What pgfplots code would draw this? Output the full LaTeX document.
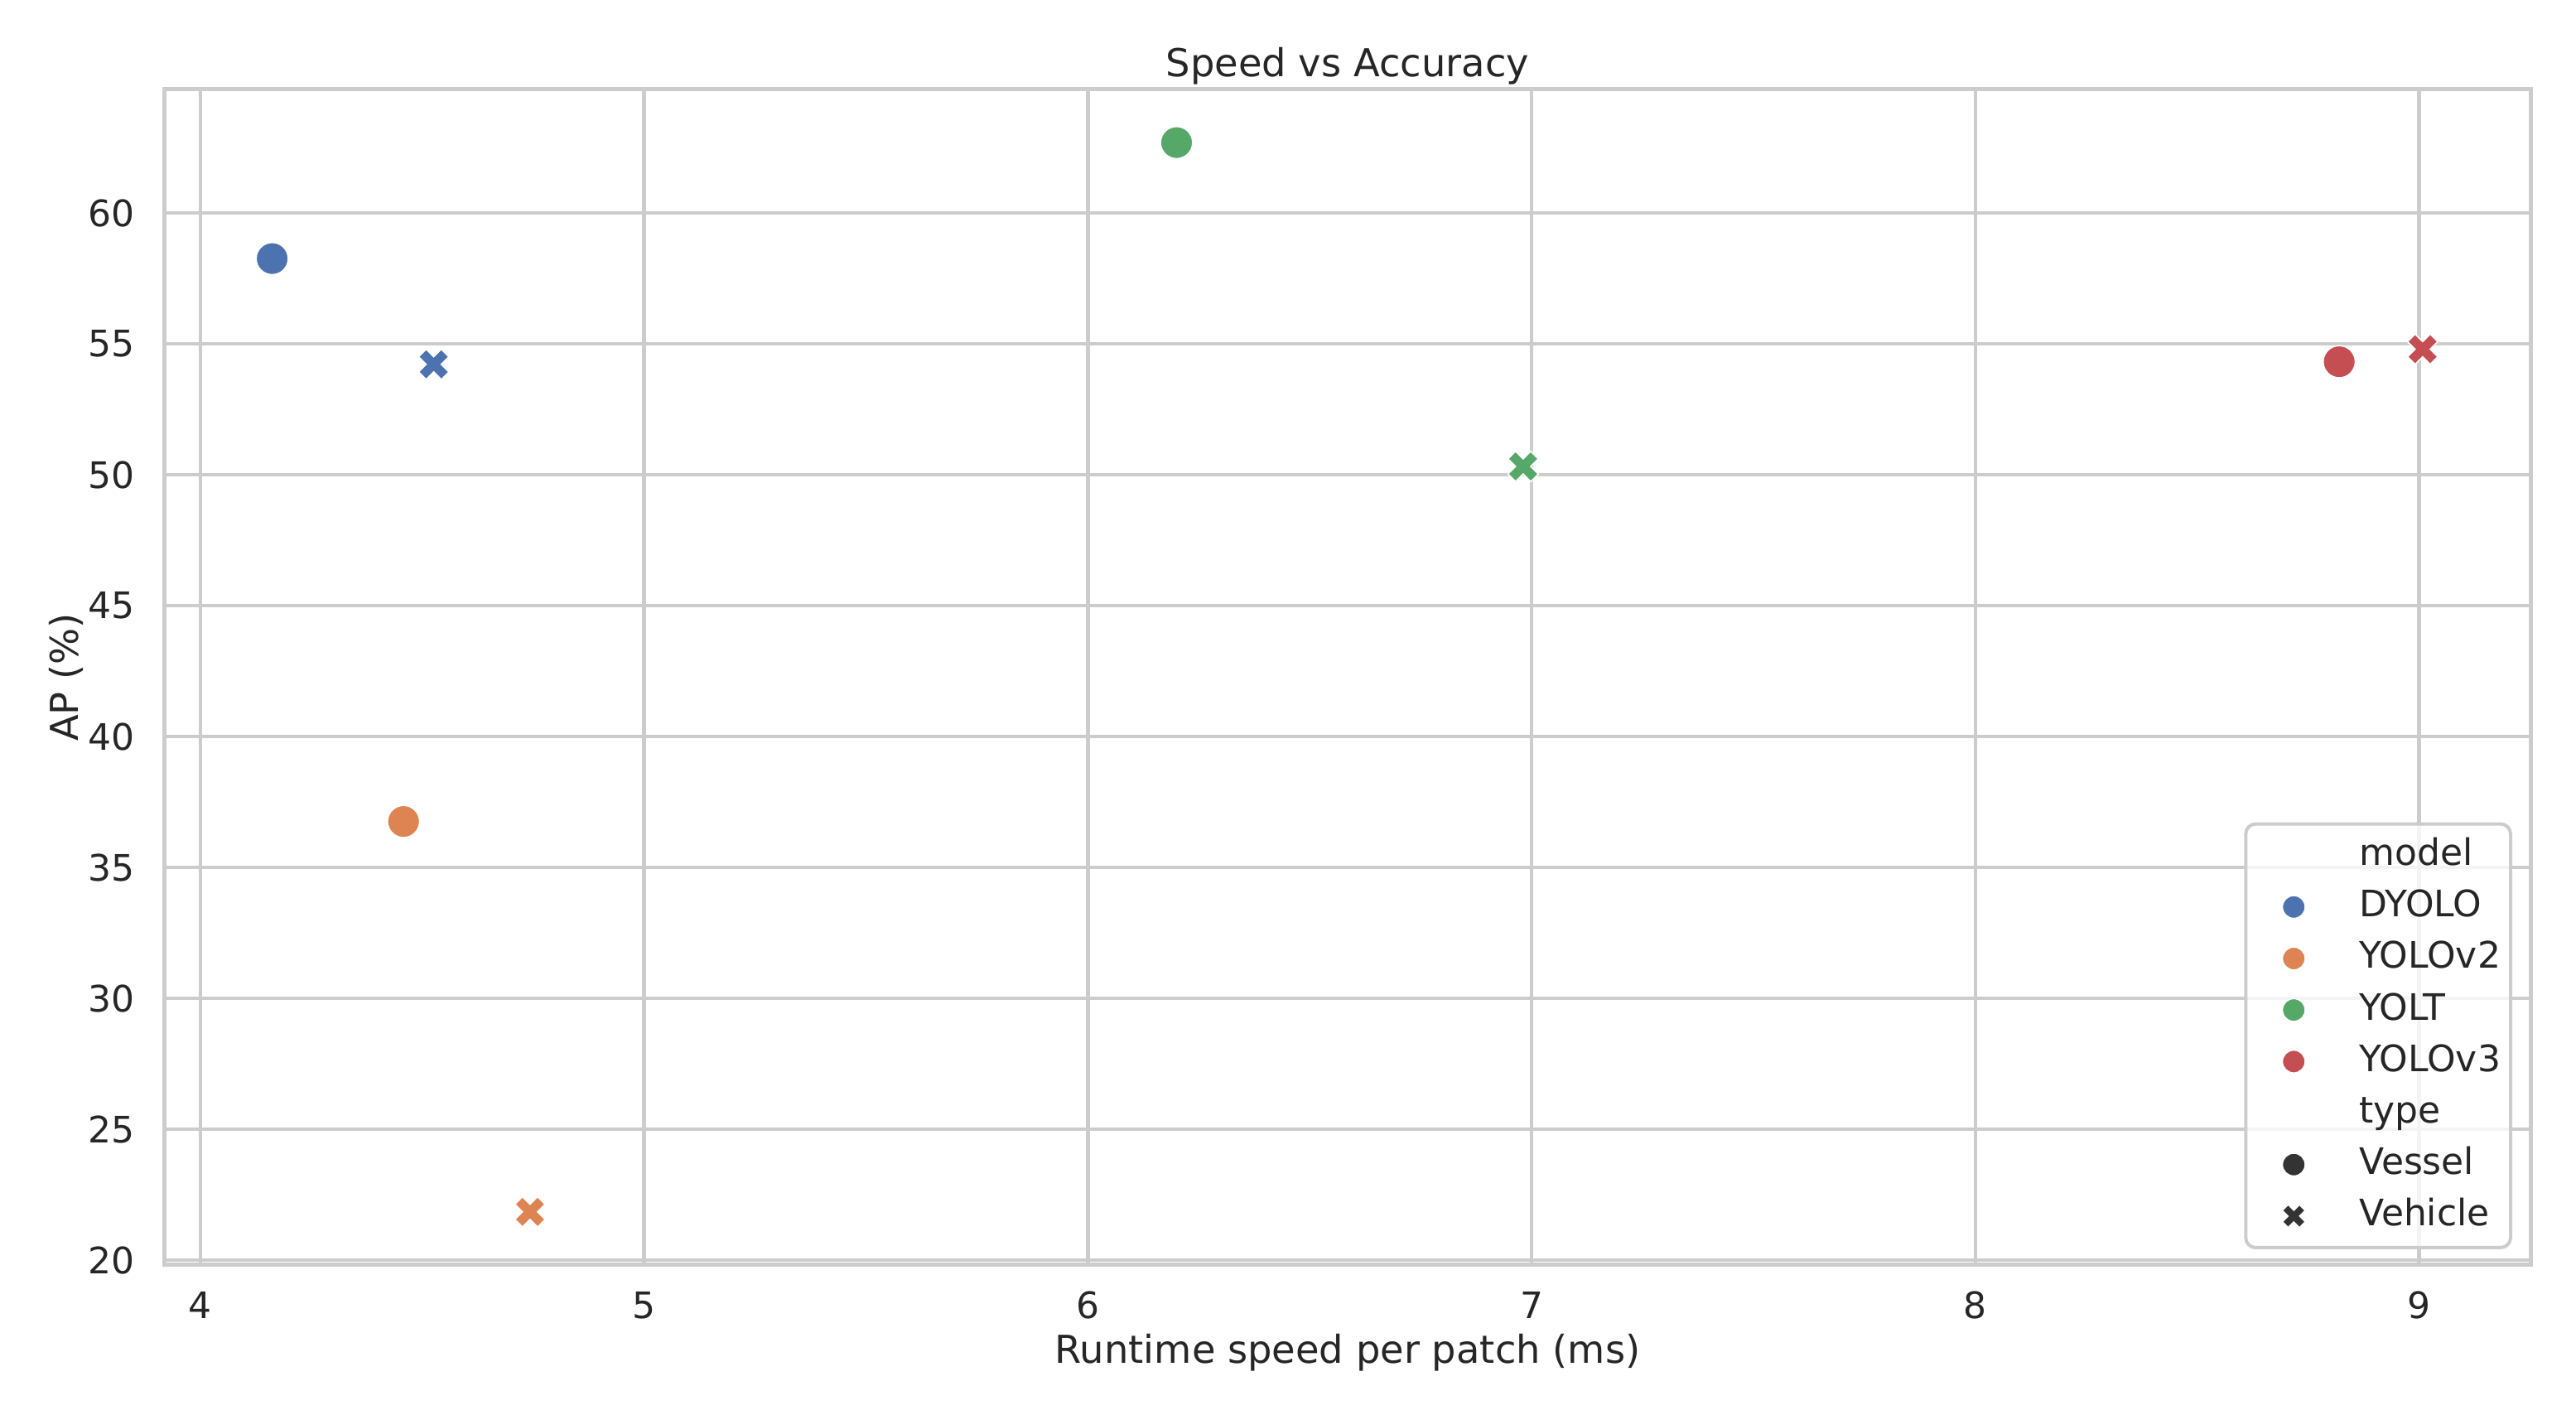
\documentclass[border=0pt]{standalone}
\usepackage{fontspec}
\setmainfont{DejaVu Sans}
\usepackage{pgfplots}
\pgfplotsset{compat=1.18}
\definecolor{c1}{HTML}{4C72B0}
\definecolor{c2}{HTML}{DD8452}
\definecolor{c3}{HTML}{55A868}
\definecolor{c4}{HTML}{C44E52}
\definecolor{cdark}{HTML}{333333}
\definecolor{textc}{HTML}{262626}
\definecolor{gridc}{HTML}{CCCCCC}
\pgfdeclareplotmark{bigx}{%
  \pgfmathsetlengthmacro{\mr}{\pgfplotmarksize}%
  \pgfmathsetlengthmacro{\ma}{\pgfplotmarksize/3}%
  \pgftransformrotate{45}%
  \pgfpathmoveto{\pgfpoint{-\ma}{-\mr}}%
  \pgfpathlineto{\pgfpoint{\ma}{-\mr}}%
  \pgfpathlineto{\pgfpoint{\ma}{-\ma}}%
  \pgfpathlineto{\pgfpoint{\mr}{-\ma}}%
  \pgfpathlineto{\pgfpoint{\mr}{\ma}}%
  \pgfpathlineto{\pgfpoint{\ma}{\ma}}%
  \pgfpathlineto{\pgfpoint{\ma}{\mr}}%
  \pgfpathlineto{\pgfpoint{-\ma}{\mr}}%
  \pgfpathlineto{\pgfpoint{-\ma}{\ma}}%
  \pgfpathlineto{\pgfpoint{-\mr}{\ma}}%
  \pgfpathlineto{\pgfpoint{-\mr}{-\ma}}%
  \pgfpathlineto{\pgfpoint{-\ma}{-\ma}}%
  \pgfpathclose
  \pgfusepathqfillstroke
}
\begin{document}
\begin{tikzpicture}
\begin{axis}[
  at={(0,0)}, anchor=south west,
  width=714pt, height=354.75pt, scale only axis,
  xmin=3.92, xmax=9.251, ymin=19.82, ymax=64.72,
  xtick={4,5,6,7,8,9}, ytick={20,25,30,35,40,45,50,55,60},
  grid=major,
  major grid style={draw=gridc, line width=1.1pt},
  axis line style={draw=gridc, line width=1.25pt},
  major tick length=0pt,
  tick label style={font=\fontsize{11}{13}\selectfont, text=textc},
  /pgf/number format/assume math mode=true,
  xticklabel style={anchor=base, inner sep=0pt, yshift=-16.25pt},
  yticklabel style={anchor=east, inner sep=0pt, xshift=-9pt},
  title={Speed vs Accuracy},
  every axis title/.style={at={(0.5,1.01057)}, anchor=base, inner sep=0pt, font=\fontsize{11.6}{14}\selectfont, text=textc},
  xlabel={Runtime speed per patch (ms)},
  ylabel={AP (\%)},
  every axis x label/.style={at={(axis description cs:0.5,-0.08386)}, anchor=base, inner sep=0pt, font=\fontsize{11.6}{14}\selectfont, text=textc},
  every axis y label/.style={at={(axis description cs:-0.036765,0.5)}, rotate=90, anchor=base, inner sep=0pt, font=\fontsize{11.6}{14}\selectfont, text=textc},
  legend style={anchor=south east, at={(axis description cs:0.9923,0.0134)},
    draw=gridc, line width=1pt, rounded corners=3pt, fill=white, fill opacity=0.8,
    draw opacity=1, text opacity=1, inner xsep=3pt, inner ysep=4pt,
    font=\fontsize{11}{13}\selectfont, text=textc,
    nodes={inner sep=0pt, text height=8.5pt, text depth=2.5pt},
    row sep=4.55pt, column sep=0pt},
  legend cell align=left,
  legend image code/.code={\path (0pt,0pt) (30.25pt,0pt); \draw[#1] plot coordinates {(11pt,0pt)};},
  legend image post style={sharp corners, fill opacity=1, draw opacity=1},
]
% Vessel (circles)
\addplot[only marks, mark=*, mark size=4.85pt, mark options={fill=c1, draw=white, line width=0.4pt}, forget plot] coordinates {(4.162,58.26)};
\addplot[only marks, mark=*, mark size=4.85pt, mark options={fill=c2, draw=white, line width=0.4pt}, forget plot] coordinates {(4.458,36.76)};
\addplot[only marks, mark=*, mark size=4.85pt, mark options={fill=c3, draw=white, line width=0.4pt}, forget plot] coordinates {(6.200,62.69)};
\addplot[only marks, mark=*, mark size=4.85pt, mark options={fill=c4, draw=white, line width=0.4pt}, forget plot] coordinates {(8.820,54.32)};
% Vehicle (X)
\addplot[only marks, mark=bigx, mark size=4.85pt, mark options={fill=c1, draw=white, line width=0.4pt, sharp corners}, forget plot] coordinates {(4.526,54.22)};
\addplot[only marks, mark=bigx, mark size=4.85pt, mark options={fill=c2, draw=white, line width=0.4pt, sharp corners}, forget plot] coordinates {(4.743,21.85)};
\addplot[only marks, mark=bigx, mark size=4.85pt, mark options={fill=c3, draw=white, line width=0.4pt, sharp corners}, forget plot] coordinates {(6.981,50.32)};
\addplot[only marks, mark=bigx, mark size=4.85pt, mark options={fill=c4, draw=white, line width=0.4pt, sharp corners}, forget plot] coordinates {(9.008,54.80)};
% Legend
\addlegendimage{empty legend}\addlegendentry{model}
\addlegendimage{only marks, mark=*, mark size=3.4pt, mark options={fill=c1, draw=white, line width=0.3pt}}\addlegendentry{DYOLO}
\addlegendimage{only marks, mark=*, mark size=3.4pt, mark options={fill=c2, draw=white, line width=0.3pt}}\addlegendentry{YOLOv2}
\addlegendimage{only marks, mark=*, mark size=3.4pt, mark options={fill=c3, draw=white, line width=0.3pt}}\addlegendentry{YOLT}
\addlegendimage{only marks, mark=*, mark size=3.4pt, mark options={fill=c4, draw=white, line width=0.3pt}}\addlegendentry{YOLOv3}
\addlegendimage{empty legend}\addlegendentry{type}
\addlegendimage{only marks, mark=*, mark size=3.4pt, mark options={fill=cdark, draw=white, line width=0.3pt}}\addlegendentry{Vessel}
\addlegendimage{only marks, mark=bigx, mark size=3.6pt, mark options={fill=cdark, draw=white, line width=0.3pt, sharp corners}}\addlegendentry{Vehicle}
\end{axis}
\pgfresetboundingbox
\path (-49.75pt,-45.25pt) rectangle (727.75pt,381.75pt);
\end{tikzpicture}
\end{document}
